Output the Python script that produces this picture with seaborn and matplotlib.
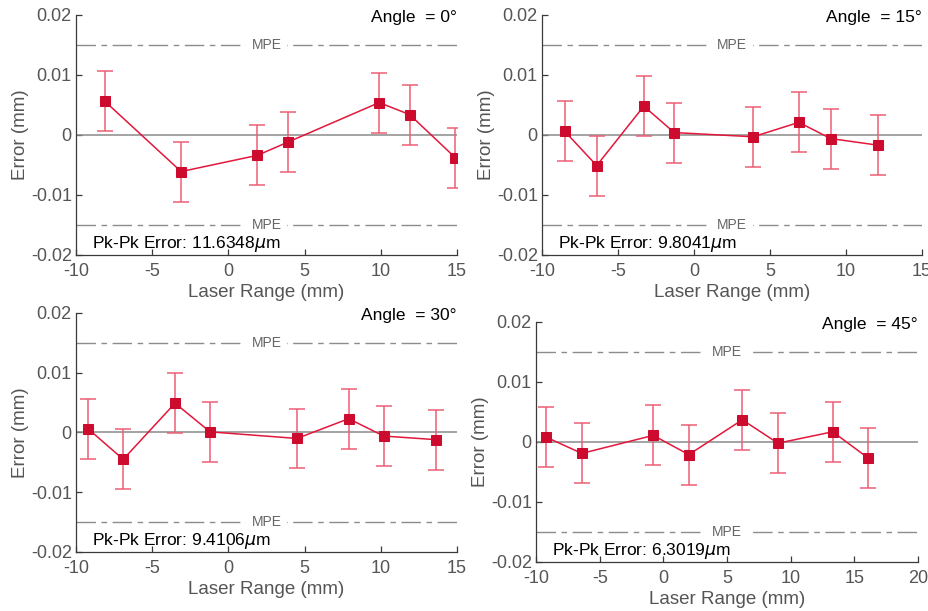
import numpy as np
import matplotlib
matplotlib.use("Agg")
import matplotlib.pyplot as plt
import seaborn as sns

# measured data, one set per laser angle
x_0 = [-8.1, -3.1, 1.9, 3.9, 9.9, 11.9, 14.9]
err_0 = [0.0056, -0.0061, -0.0034, -0.0012, 0.0054, 0.0034, -0.0038]

x_15 = [-8.5, -6.4, -3.3, -1.3, 3.9, 6.9, 9.0, 12.1]
err_15 = [0.0006, -0.0051, 0.0048, 0.0004, -0.0003, 0.0021, -0.0006, -0.0017]

x_30 = [-9.2, -6.9, -3.5, -1.2, 4.5, 7.9, 10.2, 13.6]
err_30 = [0.0006, -0.0045, 0.0049, 0.0001, -0.0010, 0.0023, -0.0006, -0.0012]

x_45 = [-9.2, -6.4, -0.8, 2.0, 6.2, 9.0, 13.3, 16.1]
err_45 = [0.0008, -0.0019, 0.0011, -0.0021, 0.0037, -0.0002, 0.0017, -0.0027]

bar_half = 0.005  # +/- uncertainty shown on every point
mpe = 0.015

angles = ["0", "15", "30", "45"]
pkpk = ["11.6348", "9.8041", "9.4106", "6.3019"]
x_limits = [(-10, 15), (-10, 15), (-10, 15), (-10, 20)]
x_tick_sets = [[-10, -5, 0, 5, 10, 15]] * 3 + [[-10, -5, 0, 5, 10, 15, 20]]
y_ticks = [-0.02, -0.01, 0, 0.01, 0.02]
y_tick_labels = ["-0.02", "-0.01", "0", "0.01", "0.02"]

sns.set_style("ticks")
plt.rcParams["font.family"] = ["Liberation Sans", "DejaVu Sans"]
plt.rcParams["mathtext.fontset"] = "dejavusans"

fig = plt.figure(figsize=(9.29, 6.11), dpi=100)
boxes = [
    [0.0818, 0.5827, 0.410, 0.3928],
    [0.5834, 0.5827, 0.409, 0.3928],
    [0.0818, 0.0966, 0.410, 0.3912],
    [0.5770, 0.0802, 0.4112, 0.3928],
]
xs = [x_0, x_15, x_30, x_45]
ys = [err_0, err_15, err_30, err_45]

red_line = "#e3173a"
red_mark = "#cc0b2e"
red_bar = "#ec5f74"
spine_col = "#3a3a3a"
label_col = "#555555"

for i in range(4):
    ax = fig.add_axes(boxes[i])
    x = np.array(xs[i])
    y = np.array(ys[i])
    lo, hi = x_limits[i]

    ax.axhline(0, color="#8a8a8a", lw=1.1, zorder=1)
    for lvl in (mpe, -mpe):
        ln = ax.axhline(lvl, color="#8c8c8c", lw=1.0, zorder=1)
        ln.set_dashes((14, 4, 4, 4))
        ax.text((lo + hi) / 2, lvl, "MPE", ha="center", va="center",
                fontsize=10, color="#666666", zorder=2,
                bbox=dict(facecolor="white", edgecolor="none", pad=4))

    ax.errorbar(x, y, yerr=bar_half, fmt="none", ecolor=red_bar,
                elinewidth=1.1, capsize=6, capthick=1.1, zorder=3)
    sns.lineplot(x=x, y=y, ax=ax, color=red_line, lw=1.1, sort=False,
                 marker="s", markersize=7, markerfacecolor=red_mark,
                 markeredgecolor=red_mark, zorder=4)

    ax.set_xlim(lo, hi)
    ax.set_ylim(-0.02, 0.02)
    ax.set_xticks(x_tick_sets[i])
    ax.set_xticklabels([str(t) for t in x_tick_sets[i]])
    ax.set_yticks(y_ticks)
    ax.set_yticklabels(y_tick_labels)
    ax.tick_params(direction="in", length=4, width=0.9, colors=spine_col,
                   labelcolor=label_col, labelsize=13)
    ax.tick_params(axis="x", pad=6)
    ax.tick_params(axis="y", pad=3)
    for s in ["top", "right"]:
        ax.spines[s].set_visible(False)
    for s in ["left", "bottom"]:
        ax.spines[s].set_color(spine_col)
        ax.spines[s].set_linewidth(0.9)

    ax.set_xlabel("Laser Range (mm)", fontsize=13.5, color=label_col, labelpad=3)
    ax.set_ylabel("Error (mm)", fontsize=13.5, color=label_col, labelpad=1)

    ax.text(hi, 0.0196, "Angle  = " + angles[i] + "°", ha="right", va="center",
            fontsize=12.5, color="black")
    ax.text(lo + 1.05 * (hi - lo) / 25, -0.0181, "Pk-Pk Error: " + pkpk[i] + r"$\mu$m",
            ha="left", va="center", fontsize=12.5, color="black")

fig.savefig("out.png", dpi=100)
